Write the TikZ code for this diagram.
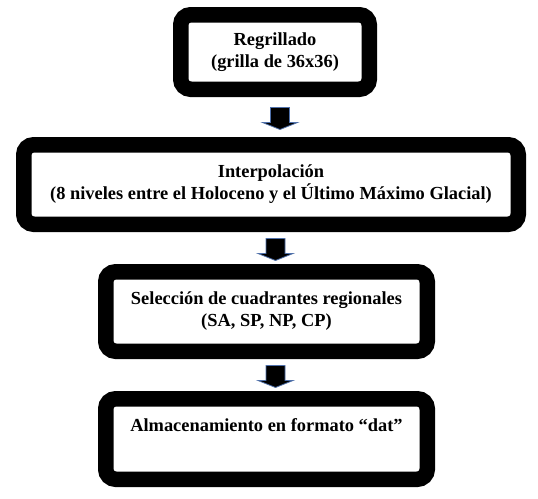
\documentclass[tikz,border=0pt]{standalone}
\usepackage{fontspec}
\setmainfont{Liberation Serif}
\usepackage{tikz}
\usetikzlibrary{calc}

\tikzset{
  caja/.style={draw=black, fill=white, line width=15.5pt, rounded corners=10pt,
    align=center, inner sep=0pt, outer sep=7.75pt,
    font=\bfseries\fontsize{18.4}{22}\selectfont},
  flecha/.style={fill=black, draw={rgb,255:red,79;green,112;blue,170}, line width=0.8pt}
}
\newcommand{\flecha}[2]{%
  \filldraw[flecha] let \p1=(#1.south), \p2=(#2.north), \n1={0.5*\y1+0.5*\y2} in
    (\x2+9pt,\n1-12.5pt) -- (\x2+26.5pt,\n1-5.5pt) -- (\x2+18.5pt,\n1-5.5pt)
    -- (\x2+18.5pt,\n1+9.5pt) -- (\x2-0.5pt,\n1+9.5pt) -- (\x2-0.5pt,\n1-5.5pt)
    -- (\x2-8.5pt,\n1-5.5pt) -- cycle;}

\begin{document}
\begin{tikzpicture}[x=1pt,y=-1pt]
      \useasboundingbox (0,0) rectangle (538,498);
      \node[caja, minimum width=188.5pt, minimum height=74.5pt] (reg) at (275,52)
        {Regrillado\\(grilla de 36x36)};
      \node[caja, minimum width=494.5pt, minimum height=79.5pt] (interp) at (271,184.5)
        {Interpolación\\(8 niveles entre el Holoceno y el Último Máximo Glacial)};
      \node[caja, minimum width=321.5pt, minimum height=79.5pt] (selec) at (266.5,311.5)
        {Selección de cuadrantes regionales\\(SA, SP, NP, CP)};
      \node[caja, minimum width=321.5pt, minimum height=80.5pt] (alma) at (266.5,439)
        {Almacenamiento en formato “dat”\\\strut};
      \flecha{reg}{interp}
      \flecha{interp}{selec}
      \flecha{selec}{alma}
    \end{tikzpicture}
\end{document}
